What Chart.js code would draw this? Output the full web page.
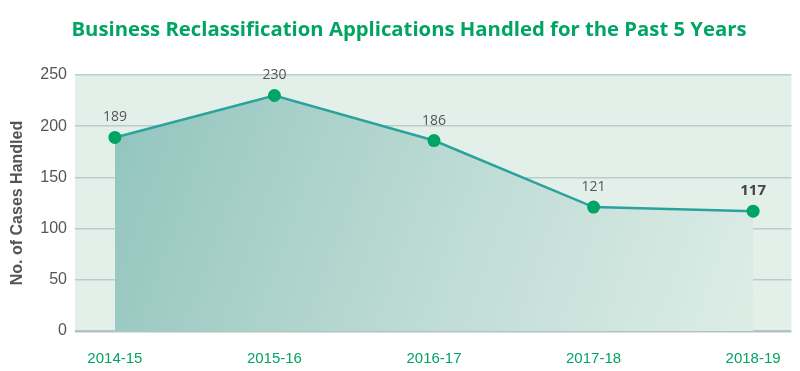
<!DOCTYPE html>
<html>
<head>
<meta charset="utf-8">
<script src="https://cdn.jsdelivr.net/npm/chart.js@4"></script>
<style>
  html, body { margin: 0; padding: 0; background: #fff; }
  #wrap { width: 800px; height: 371px; }
</style>
</head>
<body>
<div id="wrap"><canvas id="caseChart" width="800" height="371"></canvas></div>
<script>
// chart data
const years = ['2014-15', '2015-16', '2016-17', '2017-18', '2018-19'];
const cases = [189, 230, 186, 121, 117];
const yTicks = [0, 50, 100, 150, 200, 250];

const chartTitle = 'Business Reclassification Applications Handled for the Past 5 Years';
const yTitle = 'No. of Cases Handled';

// plot background + title + labels
const decor = {
    id: 'decor',
    beforeDraw(chart) {
        const c = chart.ctx, a = chart.chartArea;
        c.save();
        c.fillStyle = '#e3f0ea';
        c.fillRect(a.left, a.top, a.right - a.left, a.bottom - a.top);
        c.restore();
    },
    afterDraw(chart) {
        const c = chart.ctx;
        c.save();
        c.fillStyle = '#00a464';
        c.font = 'bold 20.3px "Open Sans"';
        c.textAlign = 'center';
        c.textBaseline = 'middle';
        c.fillText(chartTitle, 409, 30);

        c.translate(18, 203);
        c.rotate(-Math.PI / 2);
        c.fillStyle = '#555';
        c.font = 'bold 16px "Liberation Sans"';
        c.fillText(yTitle, 0, 0);
        c.restore();

        // value labels above points
        const meta = chart.getDatasetMeta(0);
        c.save();
        c.textAlign = 'center';
        c.textBaseline = 'middle';
        meta.data.forEach((pt, i) => {
            const last = i === cases.length - 1;
            c.fillStyle = last ? '#444' : '#555';
            c.font = (last ? 'bold 15px ' : '14px ') + '"Open Sans"';
            c.fillText(String(cases[i]), pt.x, pt.y - 20);
        });
        c.restore();
    }
};

document.addEventListener('DOMContentLoaded', function() {
    const ctx = document.getElementById('caseChart');

    new Chart(ctx, {
        type: 'line',
        data: {
            datasets: [{
                data: cases.map((v, i) => ({ x: i, y: v })),
                borderColor: '#2aa39c',
                borderWidth: 2.5,
                pointRadius: 6.5,
                pointHoverRadius: 6.5,
                pointBackgroundColor: '#00a464',
                pointBorderWidth: 0,
                tension: 0,
                fill: 'origin',
                backgroundColor: function(context) {
                    const a = context.chart.chartArea;
                    if (!a) return 'rgba(140,195,188,0.8)';
                    const g = context.chart.ctx.createLinearGradient(a.left, a.top, a.right, a.bottom);
                    g.addColorStop(0, '#8cc2bb');
                    g.addColorStop(0.55, '#bfdcd5');
                    g.addColorStop(1, '#e0efe8');
                    return g;
                }
            }]
        },
        options: {
            responsive: false,
            animation: false,
            layout: { padding: { top: 75, right: 7, left: 0, bottom: 0 } },
            plugins: {
                legend: { display: false },
                tooltip: { enabled: false },
                title: { display: false }
            },
            scales: {
                x: {
                    type: 'linear',
                    min: -0.25,
                    max: 4.24,
                    afterFit(scale) { scale.height = 40; },
                    grid: { display: false, drawTicks: false },
                    border: { display: false },
                    afterBuildTicks(scale) {
                        scale.ticks = years.map((_, i) => ({ value: i }));
                    },
                    ticks: {
                        padding: 19,
                        color: '#00a464',
                        font: { family: 'Liberation Sans', size: 15 },
                        callback: v => years[v]
                    }
                },
                y: {
                    min: 0,
                    max: 250,
                    afterFit(scale) { scale.width = 75; },
                    afterBuildTicks(scale) {
                        scale.ticks = yTicks.map(v => ({ value: v }));
                    },
                    grid: {
                        color: ctx2 => ctx2.tick && ctx2.tick.value === 0 ? '#b0c4c3' : '#b9cdcb',
                        lineWidth: ctx2 => ctx2.tick && ctx2.tick.value === 0 ? 2.5 : 1.5,
                        drawTicks: false
                    },
                    border: { display: false },
                    ticks: {
                        padding: 8,
                        color: '#555',
                        font: { family: 'Liberation Sans', size: 16 }
                    }
                }
            }
        },
        plugins: [decor]
    });
});
</script>
</body>
</html>
